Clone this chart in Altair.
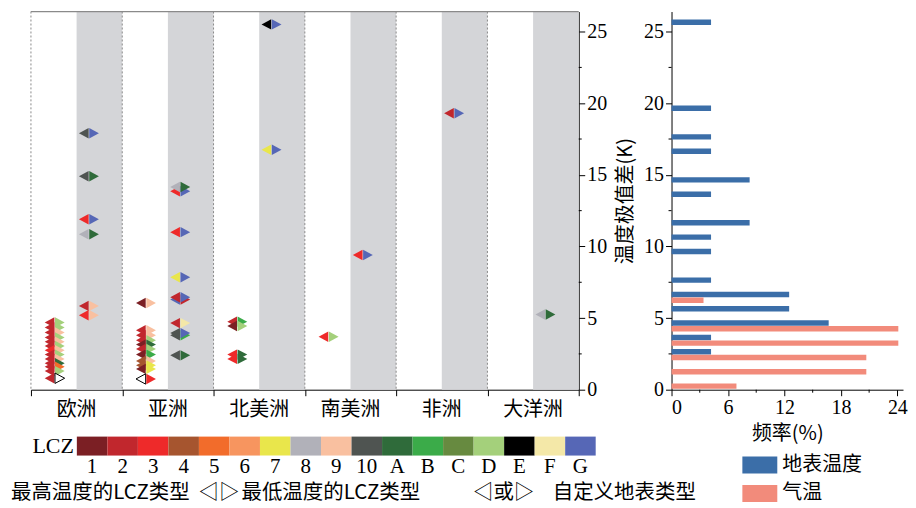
import altair as alt
import pandas as pd

# ---------------- data ----------------
continents = ["欧洲", "亚洲", "北美洲", "南美洲", "非洲", "大洋洲"]

lcz_codes = ["1", "2", "3", "4", "5", "6", "7", "8", "9", "10",
             "A", "B", "C", "D", "E", "F", "G"]
lcz_colors = ["#7b1f24", "#c1272d", "#ee2a2a", "#a6552f", "#f26c2b", "#f7955f",
              "#e9e64b", "#b1b1b9", "#f9c0a0", "#4f5451", "#2f6b3a", "#3bab49",
              "#678a40", "#a4d07b", "#000000", "#f4e8a8", "#5667b6"]

# 气温 markers (white column of each continent)
air_cont = [0, 0, 0, 0, 0, 0, 0, 0, 0, 0, 0, 0, 0,
            1, 1, 1, 1, 1, 1, 1, 1, 1, 1, 1,
            2, 2, 2, 2,
            3]
air_val = [4.7, 4.35, 4.0, 3.65, 3.35, 3.05, 2.75, 2.45, 2.15, 1.85, 1.6, 1.3, 0.8,
           6.05, 4.15, 3.8, 3.45, 3.15, 2.85, 2.45, 2.0, 1.7, 1.45, 0.75,
           4.75, 4.45, 2.45, 2.15,
           3.7]
air_max = ["2", "2", "2", "2", "2", "2", "3", "2", "2", "2", "2", "2", "2",
           "1", "2", "2", "2", "1", "2", "1", "4", "4", "1", "custom",
           "2", "1", "3", "3",
           "3"]
air_min = ["D", "D", "9", "D", "9", "D", "9", "D", "9", "A", "5", "D", "custom",
           "9", "9", "9", "D", "A", "D", "B", "9", "7", "7", "3",
           "B", "D", "A", "A",
           "D"]

# 地表温度 markers (grey column of each continent)
lst_cont = [0, 0, 0, 0, 0, 0,
            1, 1, 1, 1, 1, 1, 1, 1, 1, 1,
            2, 2,
            3,
            4,
            5]
lst_val = [17.9, 14.9, 11.9, 10.85, 5.85, 5.2,
           13.85, 14.15, 11.0, 7.85, 6.3, 6.45, 4.65, 3.8, 3.95, 2.4,
           25.5, 16.75,
           9.4,
           19.3,
           5.25]
lst_max = ["10", "10", "3", "8", "2", "3",
           "3", "8", "3", "7", "G", "2", "2", "10", "10", "10",
           "E", "7",
           "3",
           "2",
           "8"]
lst_min = ["G", "A", "G", "A", "9", "9",
           "G", "A", "G", "G", "2", "G", "F", "B", "G", "A",
           "G", "G",
           "G",
           "G",
           "A"]

# histogram (frequency, %)
hist_lst_bin = [2, 3, 4, 5, 6, 7, 9, 10, 11, 13, 14, 16, 17, 19, 25]
hist_lst_freq = [4.2, 4.2, 16.7, 12.5, 12.5, 4.2, 4.2, 4.2, 8.3, 4.2, 8.3, 4.2, 4.2, 4.2, 4.2]
hist_air_bin = [0, 1, 2, 3, 4, 6]
hist_air_freq = [6.9, 20.7, 20.7, 24.1, 24.1, 3.4]

y_major = [0, 5, 10, 15, 20, 25]
y_minor = [2.5, 7.5, 12.5, 17.5, 22.5]
x_hist_major = [0, 6, 12, 18, 24]
x_hist_minor = [3, 9, 15, 21]

series_names = ["地表温度", "气温"]
series_colors = ["#3b6ea8", "#f28b7b"]

legend_texts = ["最高温度的LCZ类型", "◁▷", "最低温度的LCZ类型", "◁或▷", "自定义地表类型"]

# ---------------- styling ----------------
CJK = "Noto Sans CJK SC"
SERIF = "Liberation Serif"
W, H = 549, 379
RW = 232
YMAX = 26.4

LEFT_TRI = "M-0.03,-0.52L-1,0L-0.03,0.52Z"
RIGHT_TRI = "M0.03,-0.52L1,0L0.03,0.52Z"

# ---------------- frames ----------------
mk = pd.concat([
    pd.DataFrame({"cont": air_cont, "val": air_val, "maxc": air_max, "minc": air_min, "kind": "air"}),
    pd.DataFrame({"cont": lst_cont, "val": lst_val, "maxc": lst_max, "minc": lst_min, "kind": "lst"}),
], ignore_index=True)
mk["xpos"] = mk["cont"] + mk["kind"].map({"air": 0.26, "lst": 0.635})

cont_df = pd.DataFrame({"name": continents, "i": list(range(len(continents)))})
cont_df["mid"] = cont_df["i"] + 0.5
cont_df["b0"] = cont_df["i"] + 0.5
cont_df["b1"] = cont_df["i"] + 1.0

lcz_df = pd.DataFrame({"code": lcz_codes})

XSC = alt.Scale(domain=[0, 6], nice=False, zero=False)
YSC = alt.Scale(domain=[0, YMAX], nice=False, zero=False)
FILL_SC = alt.Scale(domain=lcz_codes + ["custom"], range=lcz_colors + ["white"])

xax_left = alt.Axis(values=[0, 1, 2, 3, 4, 5, 6], labels=False, tickSize=6,
                    grid=False, title=None)
yax_left = alt.Axis(orient="right", values=y_major, tickSize=6, grid=False,
                    title=None, labelPadding=2, format="d")


def XL(field):
    return alt.X(field, type="quantitative", scale=XSC, axis=xax_left)


def YL(field):
    return alt.Y(field, type="quantitative", scale=YSC, axis=yax_left)


bands = alt.Chart(cont_df).mark_rect(color="#d4d5d8").encode(
    x=XL("b0"), x2="b1", y=alt.value(0), y2=alt.value(H))

dividers = alt.Chart(cont_df).mark_rule(color="#8a8a8a", strokeDash=[2, 2], strokeWidth=1).encode(
    x=XL("i"))

top_border = alt.Chart(cont_df.head(1)).mark_rule(color="#8a8a8a", strokeWidth=1.2).encode(
    x=alt.value(0), x2=alt.value(W), y=alt.value(0))

left_tri = alt.Chart(mk).mark_point(shape=LEFT_TRI, filled=True, size=400, opacity=1,
                                    strokeWidth=1).encode(
    x=XL("xpos"), y=YL("val"),
    fill=alt.Fill("maxc:N", scale=FILL_SC, legend=None),
    stroke=alt.when(alt.datum.maxc == "custom").then(alt.value("black")).otherwise(alt.value("transparent")))

right_tri = alt.Chart(mk).mark_point(shape=RIGHT_TRI, filled=True, size=400, opacity=1,
                                     strokeWidth=1).encode(
    x=XL("xpos"), y=YL("val"),
    fill=alt.Fill("minc:N", scale=FILL_SC, legend=None),
    stroke=alt.when(alt.datum.minc == "custom").then(alt.value("black")).otherwise(alt.value("transparent")))

minor_left = alt.Chart(pd.DataFrame({"v": y_minor})).mark_rule(color="black").encode(
    y=YL("v"), x=alt.value(W), x2=alt.value(W + 3))

cont_labels = alt.Chart(cont_df).mark_text(font=CJK, fontSize=20, color="black",
                                           baseline="middle").encode(
    x=XL("mid"), y=alt.value(H + 20), text="name:N")

inner = alt.layer(bands, dividers, top_border, left_tri, right_tri, minor_left, cont_labels)

# LCZ colour bar legend (own band scale)
lcz_x = alt.X("code:N", scale=alt.Scale(domain=lcz_codes, range=[46, 566],
                                        paddingInner=0, paddingOuter=0), axis=None)
lcz_bar = alt.Chart(lcz_df).mark_rect().encode(
    x=lcz_x, y=alt.value(426), y2=alt.value(445),
    fill=alt.Fill("code:N", scale=FILL_SC, legend=None))
lcz_lab = alt.Chart(lcz_df).mark_text(font=SERIF, fontSize=21, color="black",
                                      baseline="middle").encode(
    x=lcz_x, y=alt.value(456), text="code:N")
lcz_legend = alt.layer(lcz_bar, lcz_lab)

lcz_title = alt.Chart(pd.DataFrame({"t": ["LCZ"]})).mark_text(
    font=SERIF, fontSize=22, color="black", align="right", baseline="middle").encode(
    x=alt.value(43), y=alt.value(435), text="t:N")

legend_x = [-20, 168, 211, 443, 523]
bottom_texts = []
for t, xp in zip(legend_texts, legend_x):
    bottom_texts.append(
        alt.Chart(pd.DataFrame({"t": [t]})).mark_text(
            font=CJK, fontSize=20.5, color="black", align="left", baseline="middle").encode(
            x=alt.value(xp), y=alt.value(483), text="t:N"))

left = alt.layer(inner, lcz_legend, lcz_title, *bottom_texts).resolve_scale(
    x="independent").properties(width=W, height=H)

# ---------------- histogram ----------------
lst_hist = pd.DataFrame({"bin": hist_lst_bin, "freq": hist_lst_freq})
lst_hist["y0"] = lst_hist["bin"] + 0.46
lst_hist["y1"] = lst_hist["bin"] + 0.84
lst_hist["x0"] = 0.0
air_hist = pd.DataFrame({"bin": hist_air_bin, "freq": hist_air_freq})
air_hist["y0"] = air_hist["bin"] + 0.06
air_hist["y1"] = air_hist["bin"] + 0.44
air_hist["x0"] = 0.0

HXSC = alt.Scale(domain=[0, 24.6], nice=False, zero=False)
xax_right = alt.Axis(values=x_hist_major, tickSize=6, grid=False, title="频率(%)",
                     titlePadding=6, labelPadding=2)
yax_right = alt.Axis(values=y_major, tickSize=6, grid=False, title="温度极值差(K)",
                     titlePadding=8, labelPadding=2, format="d")


def hbars(df, col):
    return alt.Chart(df).mark_rect(color=col).encode(
        x=alt.X("x0:Q", scale=HXSC, axis=xax_right), x2="freq:Q",
        y=alt.Y("y0:Q", scale=YSC, axis=yax_right), y2="y1:Q")


bars_lst = hbars(lst_hist, series_colors[0])
bars_air = hbars(air_hist, series_colors[1])

minor_hy = alt.Chart(pd.DataFrame({"v": y_minor})).mark_rule(color="black").encode(
    y=alt.Y("v:Q", scale=YSC, axis=yax_right), x=alt.value(-3), x2=alt.value(0))
minor_hx = alt.Chart(pd.DataFrame({"v": x_hist_minor})).mark_rule(color="black").encode(
    x=alt.X("v:Q", scale=HXSC, axis=xax_right), y=alt.value(H), y2=alt.value(H + 3))

leg_items = []
for name, col, yc in zip(series_names, series_colors, [454.5, 483]):
    leg_items.append(
        alt.Chart(pd.DataFrame({"t": [name]})).mark_rect(color=col).encode(
            x=alt.value(71), x2=alt.value(106), y=alt.value(yc - 8.5), y2=alt.value(yc + 8.5)))
    leg_items.append(
        alt.Chart(pd.DataFrame({"t": [name]})).mark_text(
            font=CJK, fontSize=20, color="black", align="left", baseline="middle").encode(
            x=alt.value(111), y=alt.value(yc), text="t:N"))

right = alt.layer(bars_lst, bars_air, minor_hy, minor_hx, *leg_items).properties(width=RW, height=H)

chart = alt.hconcat(left, right, spacing=93, bounds="flush").properties(
    padding={"left": 2, "top": 1, "right": 0, "bottom": 0}
).configure_axis(
    labelFont=SERIF, labelFontSize=20, labelColor="black",
    titleFont=CJK, titleFontSize=20, titleFontWeight="normal", titleColor="black",
    domainColor="black", tickColor="black", domainWidth=1, tickWidth=1
).configure_view(stroke="transparent")

chart.save("out.html", embed_options={"renderer": "svg", "actions": False})
